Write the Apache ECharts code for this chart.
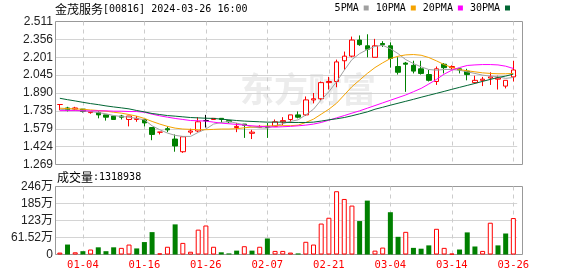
<!DOCTYPE html>
<html>
<head>
<meta charset="utf-8">
<script src="https://cdn.jsdelivr.net/npm/echarts@6/dist/echarts.min.js"></script>
<style>html,body{margin:0;padding:0;background:#fff}#c{width:578px;height:276px}</style>
</head>
<body>
<div id="c"></div>
<script>
var dates = ['12-29','01-02','01-03','01-04','01-05','01-08','01-09','01-10','01-11','01-12',
'01-15','01-16','01-17','01-18','01-19','01-22','01-23','01-24','01-25','01-26',
'01-29','01-30','01-31','02-01','02-02','02-05','02-06','02-07','02-08','02-09',
'02-14','02-15','02-16','02-19','02-20','02-21','02-22','02-23','02-26','02-27',
'02-28','02-29','03-01','03-04','03-05','03-06','03-07','03-08','03-11','03-12',
'03-13','03-14','03-15','03-18','03-19','03-20','03-21','03-22','03-25','03-26'];
var xTickLabels = ['01-04','01-16','01-26','02-07','02-21','03-04','03-14','03-26'];
var priceTickLabels = ['1.269','1.424','1.579','1.735','1.890','2.045','2.201','2.356','2.511'];

var opens  = [1.79,1.76,1.75,1.75,1.72,1.72,1.70,1.69,1.69,1.66, 1.66,1.66,1.59,1.55,1.58,1.49,1.38,1.55,1.56,1.65,
              1.66,1.67,1.65,1.59,1.62,1.54,1.59,1.60,1.60,1.64, 1.66,1.70,1.70,1.83,1.84,1.98,1.99,2.17,2.21,2.35,
              2.30,2.20,2.32,2.30,2.12,2.15,2.13,2.10,2.05,1.99, 2.14,2.11,2.10,2.08,1.98,2.00,2.02,2.01,1.95,2.03];
var closes = [1.79,1.74,1.76,1.73,1.73,1.70,1.68,1.66,1.68,1.69, 1.67,1.63,1.53,1.55,1.57,1.43,1.51,1.56,1.64,1.65,
              1.67,1.66,1.64,1.60,1.61,1.55,1.60,1.59,1.64,1.65, 1.70,1.68,1.83,1.84,1.98,1.99,2.16,2.21,2.35,2.31,
              2.27,2.30,2.31,2.19,2.07,2.14,2.08,2.06,2.00,2.10, 2.11,2.12,2.09,2.05,2.00,2.01,2.03,2.02,2.00,2.09];
var lows   = [1.74,1.73,1.74,1.72,1.71,1.67,1.65,1.66,1.66,1.60, 1.64,1.60,1.48,1.53,1.55,1.38,1.37,1.53,1.55,1.59,
              1.66,1.63,1.63,1.55,1.50,1.49,1.59,1.50,1.60,1.61, 1.63,1.67,1.69,1.80,1.83,1.92,1.94,2.09,2.20,2.30,
              2.20,2.20,2.29,2.11,2.05,1.90,2.06,2.05,1.99,1.96, 2.06,2.09,2.06,2.00,1.97,1.95,1.96,1.92,1.93,1.99];
var highs  = [1.79,1.77,1.77,1.75,1.73,1.73,1.70,1.69,1.70,1.69, 1.69,1.66,1.59,1.55,1.60,1.53,1.51,1.58,1.68,1.70,
              1.67,1.67,1.65,1.63,1.62,1.57,1.61,1.63,1.66,1.68, 1.70,1.73,1.86,1.89,1.99,2.03,2.18,2.25,2.38,2.39,
              2.40,2.36,2.34,2.33,2.20,2.16,2.17,2.17,2.09,2.12, 2.15,2.13,2.10,2.10,2.04,2.03,2.07,2.04,2.00,2.17];
var dojiBlack = [19];

var ma5  = [1.749,1.743,1.740,1.735,1.729,1.720,1.709,1.694,1.686,1.680, 1.669,1.657,1.605,1.571,1.542,1.522,1.513,1.513,1.548,1.577,
            1.620,1.634,1.643,1.628,1.614,1.594,1.588,1.585,1.606,1.623, 1.643,1.657,1.700,1.749,1.830,1.901,1.988,2.088,2.180,2.232,
            2.267,2.295,2.304,2.275,2.232,2.180,2.146,2.117,2.094,2.088, 2.094,2.094,2.088,2.074,2.060,2.045,2.037,2.031,2.017,2.025];
var ma10 = [1.758,1.755,1.752,1.749,1.743,1.738,1.732,1.723,1.715,1.703, 1.689,1.669,1.643,1.620,1.600,1.585,1.577,1.574,1.571,1.571,
            1.574,1.577,1.577,1.580,1.588,1.594,1.600,1.603,1.606,1.606, 1.606,1.611,1.634,1.663,1.706,1.749,1.801,1.873,1.945,2.002,
            2.060,2.111,2.152,2.189,2.209,2.221,2.224,2.218,2.198,2.169, 2.137,2.111,2.094,2.083,2.074,2.065,2.060,2.057,2.057,2.060];
var ma20 = [1.737,1.737,1.737,1.735,1.735,1.735,1.735,1.732,1.732,1.729, 1.729,1.723,1.706,1.692,1.680,1.669,1.660,1.651,1.649,1.646,
            1.637,1.628,1.623,1.617,1.611,1.605,1.600,1.597,1.594,1.597, 1.600,1.605,1.611,1.620,1.634,1.654,1.674,1.694,1.715,1.735,
            1.758,1.781,1.804,1.827,1.850,1.873,1.901,1.930,1.968,2.008, 2.054,2.088,2.111,2.129,2.134,2.137,2.137,2.134,2.123,2.103];
var ma30 = [1.844,1.832,1.821,1.809,1.798,1.789,1.778,1.769,1.761,1.752, 1.738,1.726,1.712,1.703,1.694,1.689,1.683,1.677,1.674,1.671,
            1.669,1.663,1.657,1.651,1.646,1.643,1.640,1.637,1.637,1.637, 1.634,1.634,1.634,1.637,1.646,1.657,1.666,1.677,1.692,1.709,
            1.726,1.749,1.766,1.784,1.801,1.818,1.835,1.853,1.870,1.887, 1.904,1.922,1.939,1.956,1.973,1.991,2.008,2.025,2.037,2.054];

var volumes = [70000,360000,80000,120000,180000,260000,120000,260000,240000,360000,
               220000,450000,810000,40000,280000,1090000,420000,100000,900000,1050000,
               280000,80000,40000,140000,300000,140000,280000,580000,130000,130000,
               70000,40000,460000,360000,1120000,1330000,2290000,2010000,1770000,1210000,
               1950000,140000,250000,1530000,640000,820000,240000,210000,330000,930000,
               240000,30000,180000,800000,290000,130000,1150000,330000,760000,1318938];
var volUp = [1,0,1,0,1,0,0,0,1,1, 0,0,0,1,1,0,1,1,1,1, 1,0,0,0,1,0,1,0,1,1,
             1,0,1,1,1,1,1,1,1,0, 0,1,1,0,0,1,0,0,0,1, 1,1,0,0,0,1,1,0,0,1];

var RED = '#ff0000', GREEN = '#008000';
var candleData = dates.map(function (d, i) {
  var item = { value: [opens[i], closes[i], lows[i], highs[i]] };
  if (dojiBlack.indexOf(i) >= 0) {
    item.itemStyle = { color: '#000', color0: '#000', borderColor: '#000', borderColor0: '#000', borderColorDoji: '#000' };
  }
  return item;
});
var volData = volumes.map(function (v, i) {
  return volUp[i]
    ? { value: v, itemStyle: { color: '#fff', borderColor: RED, borderWidth: 1 } }
    : { value: v, itemStyle: { color: GREEN, borderColor: GREEN, borderWidth: 0 } };
});

var MONO = 'DejaVu Sans Mono';
var NUM = 'Liberation Sans, Noto Sans CJK SC';
var xInterval = function (idx, val) { return xTickLabels.indexOf(val) >= 0; };
var dashed = { show: true, interval: xInterval, alignWithLabel: true, lineStyle: { color: '#cccccc', type: [4, 4], width: 1 } };
var richTitle = {
  a: { fontFamily: 'Noto Sans CJK SC', fontSize: 12, fontWeight: 'normal', color: '#000', lineHeight: 14 },
  b: { fontFamily: MONO, fontSize: 10, fontWeight: 'normal', color: '#000', lineHeight: 14 }
};

var chart = echarts.init(document.getElementById('c'), null, { renderer: 'canvas' });
chart.setOption({
  animation: false,
  backgroundColor: '#fff',
  title: [
    { left: 55, top: 2, padding: 0,
      text: '{a|金茂服务}{b|[00816] 2024-03-26 16:00}',
      textStyle: { fontWeight: 'normal', rich: richTitle } },
    { left: 57, top: 170, padding: 0,
      text: '{a|成交量}{b|:' + volumes[volumes.length - 1] + '}',
      textStyle: { fontWeight: 'normal', rich: richTitle } }
  ],
  legend: {
    right: 68, top: 3, padding: 0, align: 'right', icon: 'rect',
    itemWidth: 5, itemHeight: 5, itemGap: 7,
    textStyle: { fontFamily: MONO, fontSize: 10, color: '#000' },
    data: ['5PMA', '10PMA', '20PMA', '30PMA']
  },
  graphic: [
    { type: 'text', left: 240, top: 72, z: 0, silent: true,
      style: { text: '东方财富', fontSize: 34, fontWeight: 'bold', fontFamily: 'Noto Sans CJK SC', fill: '#ececec' } }
  ],
  grid: [
    { left: 56, top: 21.5, width: 461.2, height: 143, show: false },
    { left: 56, top: 186.5, width: 461.2, height: 68, show: false },
    { left: 55.5, top: 21.5, right: 55.5, height: 143, show: true, borderColor: '#999', borderWidth: 1, backgroundColor: 'rgba(0,0,0,0)' },
    { left: 55.5, top: 186.5, right: 55.5, height: 68, show: true, borderColor: '#999', borderWidth: 1, backgroundColor: 'rgba(0,0,0,0)' }
  ],
  xAxis: [
    { type: 'category', gridIndex: 0, data: dates, boundaryGap: true,
      axisLine: { show: false }, axisTick: { show: false }, axisLabel: { show: false }, splitLine: dashed },
    { type: 'category', gridIndex: 1, data: dates, boundaryGap: true,
      axisLine: { show: false }, axisTick: { show: false },
      axisLabel: { show: true, interval: xInterval, color: RED, fontFamily: MONO, fontSize: 10.5, margin: 5 },
      splitLine: dashed },
    { type: 'value', gridIndex: 2, show: false },
    { type: 'value', gridIndex: 3, show: false }
  ],
  yAxis: [
    { type: 'value', gridIndex: 0, min: 1.269, max: 2.511, interval: 0.15525,
      axisLine: { show: false }, axisTick: { show: false },
      axisLabel: { margin: 3, fontFamily: NUM, fontSize: 12, color: '#222',
        formatter: function (v) { return priceTickLabels[Math.round((v - 1.269) / 0.15525)] || ''; } },
      splitLine: { show: true, showMinLine: false, showMaxLine: false, lineStyle: { color: '#d4d4d4', width: 1 } } },
    { type: 'value', gridIndex: 1, min: 0, max: 2460800, interval: 615200,
      axisLine: { show: false }, axisTick: { show: false },
      axisLabel: { margin: 3, fontFamily: NUM, fontSize: 12, color: '#222',
        formatter: function (v) {
          if (v === 0) return '0';
          var w = v / 10000;
          return (w >= 100 ? String(Math.round(w)) : w.toFixed(2)) + '万';
        } },
      splitLine: { show: true, showMinLine: false, showMaxLine: false, lineStyle: { color: '#d4d4d4', width: 1 } } },
    { type: 'value', gridIndex: 2, show: false },
    { type: 'value', gridIndex: 3, show: false }
  ],
  series: [
    { type: 'candlestick', name: 'K', xAxisIndex: 0, yAxisIndex: 0, barWidth: 5, data: candleData,
      itemStyle: { color: '#fff', color0: GREEN, borderColor: RED, borderColor0: GREEN, borderColorDoji: RED, borderWidth: 1 } },
    { type: 'line', name: '5PMA', xAxisIndex: 0, yAxisIndex: 0, data: ma5, showSymbol: false, symbol: 'none',
      color: '#a0a0a0', lineStyle: { width: 1, color: '#a0a0a0' } },
    { type: 'line', name: '10PMA', xAxisIndex: 0, yAxisIndex: 0, data: ma10, showSymbol: false, symbol: 'none',
      color: '#f5a300', lineStyle: { width: 1, color: '#f5a300' } },
    { type: 'line', name: '20PMA', xAxisIndex: 0, yAxisIndex: 0, data: ma20, showSymbol: false, symbol: 'none',
      color: '#ff00ff', lineStyle: { width: 1, color: '#ff00ff' } },
    { type: 'line', name: '30PMA', xAxisIndex: 0, yAxisIndex: 0, data: ma30, showSymbol: false, symbol: 'none',
      color: '#006633', lineStyle: { width: 1, color: '#006633' } },
    { type: 'bar', name: 'VOL', xAxisIndex: 1, yAxisIndex: 1, barWidth: 5, data: volData }
  ]
});
</script>
</body>
</html>
